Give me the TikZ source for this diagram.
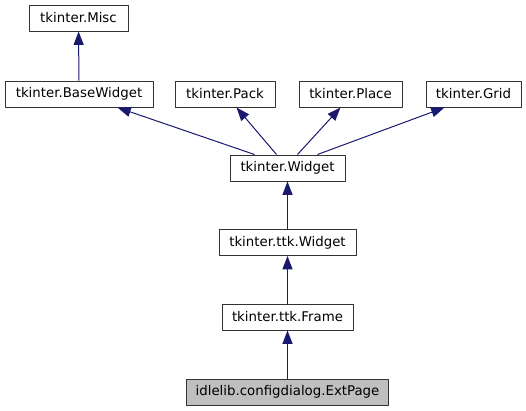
\documentclass[tikz,border=0pt]{standalone}
\usepackage{fontspec}
\setmainfont{DejaVu Sans}
\usetikzlibrary{arrows.meta,calc}
\definecolor{edgeblue}{HTML}{191970}
\definecolor{boxgray}{HTML}{BFBFBF}
\tikzset{
  cls/.style={draw=black!80, line width=0.75pt, fill=white, inner sep=0pt,
    minimum height=19.5pt, font=\fontsize{10}{12}\selectfont},
  wd/.style={minimum width=#1*0.75pt},
  edge/.style={draw=edgeblue, line width=0.75pt,
    -{Triangle[length=10pt,width=7.5pt]}},
}
\begin{document}
\begin{tikzpicture}[x=0.75pt,y=-0.75pt, line join=round]
\useasboundingbox (0,0) rectangle (526,411);
% classes
\node[cls,wd=99]  (misc)  at (78.5,18)  {tkinter.Misc};
\node[cls,wd=148] (base)  at (79,94)    {tkinter.BaseWidget};
\node[cls,wd=100] (pack)  at (225,94)   {tkinter.Pack};
\node[cls,wd=103] (place) at (350.5,94) {tkinter.Place};
\node[cls,wd=95]  (grid)  at (473.5,94) {tkinter.Grid};
\node[cls,wd=115] (wid)   at (287.5,168) {tkinter.Widget};
\node[cls,wd=137] (ttkw)  at (287.5,242.5) {tkinter.ttk.Widget};
\node[cls,wd=131] (frame) at (287.5,317) {tkinter.ttk.Frame};
\node[cls,wd=202,fill=boxgray] (ext) at (287.5,392) {idlelib.configdialog.ExtPage};
% inheritance
\draw[edge] (base) -- (misc);
\draw[edge] ($(wid.north west)+(25,0)$) -- ($(base.south west)+(113,0)$);
\draw[edge] ($(wid.north west)+(47,0)$) -- ($(pack.south west)+(62,0)$);
\draw[edge] ($(wid.north west)+(68,0)$) -- ($(place.south west)+(42,0)$);
\draw[edge] ($(wid.north west)+(88,0)$) -- ($(grid.south west)+(19,0)$);
\draw[edge] (ttkw) -- (wid);
\draw[edge] (frame) -- (ttkw);
\draw[edge] (ext) -- (frame);
\end{tikzpicture}
\end{document}
